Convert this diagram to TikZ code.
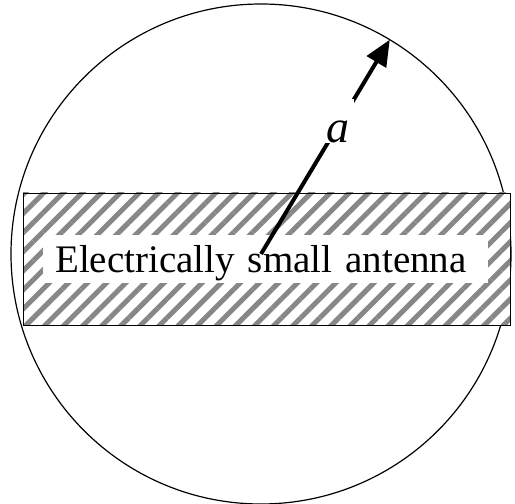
\documentclass[tikz,border=0pt]{standalone}
\usepackage{fontspec}
\setmainfont{Liberation Serif}
\usepackage{tikz}
\usetikzlibrary{arrows.meta, patterns.meta, positioning, calc}
\definecolor{hatchgray}{RGB}{135, 135, 135}

\begin{document}
\begin{tikzpicture}[
    x=1pt, y=1pt,
    sphere/.style={draw, line width=1.2pt},
    antenna/.style={draw, line width=0.9pt, preaction={fill=white}, pattern={Lines[angle=45, distance=13.5pt, line width=5pt]}, pattern color=hatchgray},
    labelbox/.style={fill=white, inner xsep=12pt, inner ysep=0pt, text width=421pt, align=left, text height=38pt, text depth=10pt, font=\fontsize{39}{44}\selectfont},
    radius/.style={-{Triangle[length=26pt, width=22pt]}, line width=4pt},
    rlabel/.style={fill=white, inner xsep=4.5pt, inner ysep=0pt, text height=44pt, text depth=0pt, font=\fontsize{46}{50}\selectfont\itshape},
]
\useasboundingbox (0, 0) rectangle (515, 504);

% Sphere enclosing the antenna
\coordinate (c) at (261, 250);
\node[sphere, circle, minimum size=500pt, inner sep=0pt] (sphere) at (c) {};

% Antenna body
\draw[antenna] (23, 179) rectangle (510, 311);
\node[labelbox, anchor=base west] (label) at (43, 231) {Electrically small antenna};

% Radius
\coordinate (tip) at ($(c)+(59:250)$);
\draw[radius] (c) -- (tip);
\node[rlabel, anchor=base] (a) at (337.5, 361) {a};
\end{tikzpicture}
\end{document}
